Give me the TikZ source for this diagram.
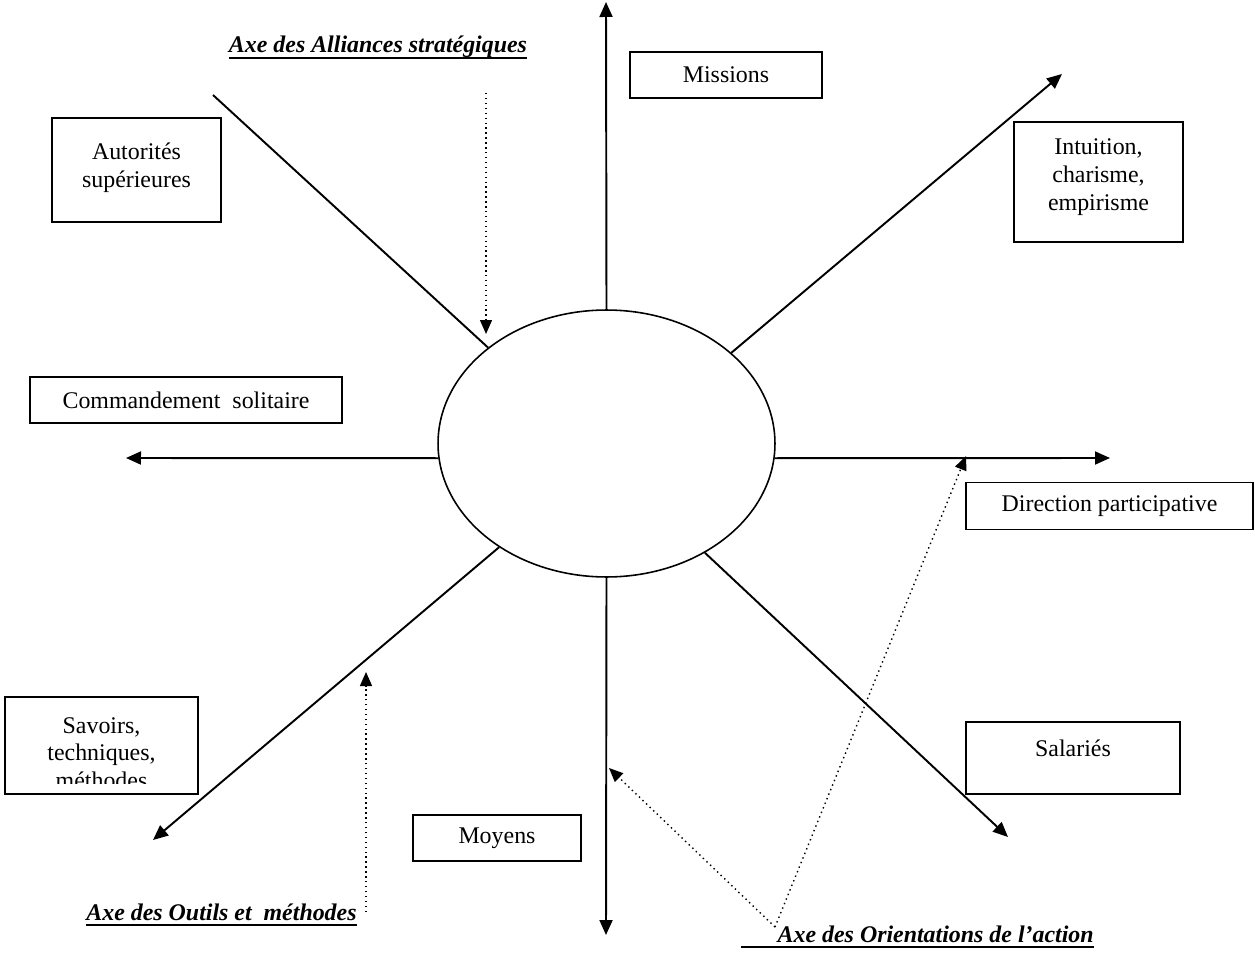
\documentclass[tikz,border=0pt]{standalone}
\usepackage{fontspec}
\setmainfont{Liberation Serif}
\usetikzlibrary{shapes.geometric,arrows.meta}
\begin{document}
\begin{tikzpicture}[x=0.02cm,y=-0.02cm,
  every node/.style={font=\fontsize{13.6pt}{15.8pt}\selectfont},
  box/.style={draw,line width=0.9pt,inner sep=0pt,align=center},
  txt/.style={inner sep=0pt,align=center},
  axis/.style={line width=1.1pt,-{Triangle[length=0.3cm,width=0.26cm]}},
  plain/.style={line width=1.1pt},
  dots/.style={line width=0.8pt,dotted,-{Triangle[length=0.28cm,width=0.24cm]}},
  lab/.style={inner sep=0pt,anchor=base,font=\fontsize{13.6pt}{15.3pt}\selectfont\bfseries\itshape},
  uline/.style={line width=0.9pt}]
\useasboundingbox (0,0) rectangle (1255,953);

% central ellipse
\node[draw,ellipse,line width=0.9pt,minimum width=6.74cm,minimum height=5.34cm,inner sep=0pt] (ell) at (606.5,443.5) {};

% axis end points
\coordinate (up) at (606,2);
\coordinate (down) at (606,935);
\coordinate (left) at (126,458);
\coordinate (right) at (1110,458);
\coordinate (ne) at (1062,74);
\coordinate (nw) at (213,95);
\coordinate (sw) at (153,840);
\coordinate (se) at (1008,837);

\draw[axis] (ell.90) -- (up);
\draw[axis] (ell.270) -- (down);
\draw[axis] (ell.185) -- (left);
\draw[axis] (ell.355) -- (right);
\draw[axis] (ell.36.3) -- (ne);
\draw[plain] (ell.141.9) -- (nw);
\draw[axis] (ell.224.2) -- (sw);
\draw[axis] (ell.312.5) -- (se);

% boxes
\node[box,minimum width=3.84cm,minimum height=0.92cm] (missions) at (726,75) {Missions};
\node[box,minimum width=3.38cm,minimum height=2.08cm] (autorites) at (136.5,170) {};
\node[txt] at (136.5,168) {Autorités\\supérieures};
\node[box,minimum width=3.38cm,minimum height=2.4cm] (intuition) at (1098.5,182) {};
\node[txt] at (1098.5,177) {Intuition,\\charisme,\\empirisme};
\node[box,minimum width=6.24cm,minimum height=0.92cm] (commandement) at (186,400) {Commandement\ \ solitaire};
\node[box,minimum width=5.74cm,minimum height=0.94cm] (direction) at (1109.5,506) {Direction participative};
\node[box,minimum width=3.86cm,minimum height=1.94cm] (savoirs) at (101.5,745.5) {};
\begin{scope}
  \clip (5,697) rectangle (198,783);
  \node[txt] at (101.5,753) {Savoirs,\\techniques,\\méthodes};
\end{scope}
\node[box,minimum width=4.28cm,minimum height=1.44cm] (salaries) at (1073,758) {};
\node[txt] at (1073,748) {Salariés};
\node[box,minimum width=3.36cm,minimum height=0.92cm] (moyens) at (497,838) {Moyens};

% axis labels
\node[lab] (alliances) at (378,53) {Axe des Alliances stratégiques};
\draw[uline] ([yshift=-0.1cm]alliances.base west) -- ([yshift=-0.1cm]alliances.base east);
\node[lab] (outils) at (221.5,920) {Axe des Outils et\ \ méthodes};
\draw[uline] ([yshift=-0.1cm]outils.base west) -- ([yshift=-0.1cm]outils.base east);
\node[lab,anchor=base east] (orient) at (1094,942) {Axe des Orientations de l’action};
\draw[uline] ([xshift=-0.72cm,yshift=-0.1cm]orient.base west) -- ([yshift=-0.1cm]orient.base east);

% dotted arrows
\coordinate (a1) at (486,93);
\coordinate (a1t) at (486,334);
\draw[dots] (a1) -- (a1t);
\coordinate (a2) at (366,912);
\coordinate (a2t) at (366,672);
\draw[dots] (a2) -- (a2t);
\coordinate (v) at (775,927);
\coordinate (v1) at (609,768);
\coordinate (v2) at (966,456);
\draw[dots] (v) -- (v1);
\draw[dots] (v) -- (v2);
\end{tikzpicture}
\end{document}
